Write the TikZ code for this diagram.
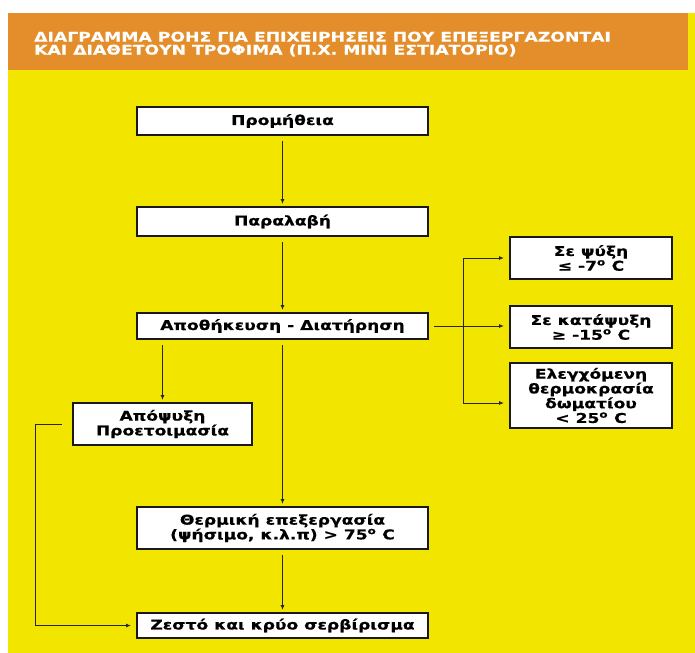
\documentclass[tikz,border=0pt]{standalone}
\usepackage{fontspec}
\setmainfont{DejaVu Sans}
\newfontfamily\headfont[FakeStretch=1.3,FakeBold=0.6]{DejaVu Sans Bold}
\newfontfamily\boxfont[FakeStretch=1.27,FakeBold=0.6]{DejaVu Sans Bold}
\usetikzlibrary{arrows.meta}

\definecolor{panelyellow}{RGB}{242,230,0}
\definecolor{titleorange}{RGB}{227,142,42}

\tikzset{
	stepbox/.style={draw=black!90, line width=2bp, fill=white, minimum width=291bp, inner sep=0pt, align=center, font=\boxfont\fontsize{13.5}{14.8}\selectfont},
	sidebox/.style={stepbox, minimum width=162bp},
	flow/.style={-{Latex[length=5bp,width=4bp]}, line width=0.9bp, draw=black!85, shorten <=5bp, shorten >=2bp},
}

\begin{document}
\begin{tikzpicture}[x=1bp,y=-1bp]
			\useasboundingbox (0,0) rectangle (695,653);
			\fill[white] (0,0) rectangle (695,653);
			\fill[panelyellow] (8,13) rectangle (695,653);
			\fill[titleorange] (8,13) rectangle (688,70);
			\node[anchor=west, align=left, inner sep=0pt, text=white, font=\headfont\fontsize{13.3}{13}\selectfont] (title) at (34,44) {ΔΙΑΓΡΑΜΜΑ ΡΟΗΣ ΓΙΑ ΕΠΙΧΕΙΡΗΣΕΙΣ ΠΟΥ ΕΠΕΞΕΡΓΑΖΟΝΤΑΙ\\ΚΑΙ ΔΙΑΘΕΤΟΥΝ ΤΡΟΦΙΜΑ (Π.Χ. ΜΙΝΙ ΕΣΤΙΑΤΟΡΙΟ)};
			% main column
			\node[stepbox, minimum height=28bp] (prom) at (282.5,121) {Προμήθεια};
			\node[stepbox, minimum height=29bp] (paral) at (282.5,221.5) {Παραλαβή};
			\node[stepbox, minimum height=26bp] (apoth) at (282.5,326) {Αποθήκευση - Διατήρηση};
			\node[stepbox, minimum height=42bp] (thermo) at (282.5,528) {Θερμική επεξεργασία\\(ψήσιμο, κ.λ.π) > 75\textsuperscript{o} C};
			\node[stepbox, minimum height=25bp] (zesto) at (282.5,625.5) {Ζεστό και κρύο σερβίρισμα};
			\node[stepbox, minimum width=179bp, minimum height=42bp] (apops) at (162.5,424) {Απόψυξη\\Προετοιμασία};
			% storage conditions
			\node[sidebox, minimum height=42bp] (psyx) at (591,258) {Σε ψύξη\\≤ -7\textsuperscript{o} C};
			\node[sidebox, minimum height=42bp] (katap) at (591,327) {Σε κατάψυξη\\≥ -15\textsuperscript{o} C};
			\node[sidebox, minimum height=65bp] (elegx) at (591,395.5) {Ελεγχόμενη\\θερμοκρασία\\δωματίου\\< 25\textsuperscript{o} C};
			\draw[flow] (prom) -- (paral);
			\draw[flow] (paral) -- (apoth);
			\draw[flow] (apoth) -- (thermo);
			\draw[flow] (thermo) -- (zesto);
			\draw[flow] (apoth.south -| apops.north) -- (apops.north);
			\coordinate (fork) at (463,258);
			\coordinate (forkend) at (463,403);
			\draw[line width=0.9bp, draw=black!85] (fork) -- (forkend);
			\draw[flow, shorten >=5bp] (apoth.east) -- (apoth.east -| katap.west);
			\draw[flow, shorten <=0pt, shorten >=5bp] (fork) -- (psyx.west);
			\draw[flow, shorten <=0pt, shorten >=5bp] (forkend) -- (forkend -| elegx.west);
			\coordinate (loop) at (35,424);
			\draw[flow, shorten <=10bp, shorten >=5bp] (apops.west) -- (loop) |- (zesto.west);
		\end{tikzpicture}
\end{document}
